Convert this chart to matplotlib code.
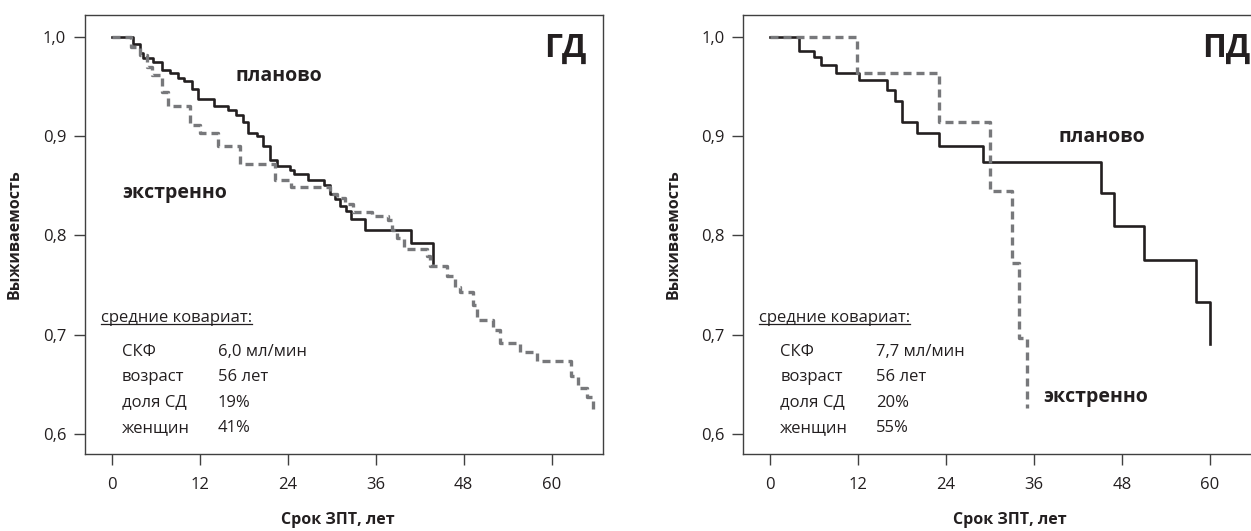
import matplotlib
matplotlib.use("Agg")
import matplotlib.pyplot as plt

plt.rcParams['font.family'] = ['Open Sans', 'DejaVu Sans']

# ГД: planned (solid) and urgent (dashed) survival, months
gd_plan_t = [0, 2.9, 3.9, 4.3, 5.7, 6.8, 8.0, 9.0, 9.8, 10.9, 11.8, 13.9, 15.9, 17.0, 17.9,
             18.6, 19.8, 20.7, 21.6, 22.5, 24.3, 24.8, 26.8, 28.9, 29.8, 30.5, 31.1, 32.0,
             32.7, 34.6, 40.8, 43.8]
gd_plan_s = [1.0, 0.993, 0.984, 0.979, 0.975, 0.967, 0.964, 0.959, 0.956, 0.948, 0.937, 0.930,
             0.926, 0.921, 0.914, 0.903, 0.900, 0.890, 0.876, 0.870, 0.866, 0.862, 0.856, 0.851,
             0.842, 0.837, 0.830, 0.825, 0.816, 0.805, 0.792, 0.772]
gd_urg_t = [0, 2.7, 3.9, 4.8, 5.5, 6.8, 7.7, 10.7, 12.0, 14.5, 17.5, 22.3, 24.5, 29.8, 30.7,
            31.8, 32.9, 35.5, 37.7, 38.2, 38.9, 39.9, 43.0, 43.4, 45.7, 46.8, 47.5, 49.3, 49.8,
            52.0, 53.0, 55.7, 58.0, 62.6, 63.6, 64.8, 65.7]
gd_urg_s = [1.0, 0.990, 0.982, 0.970, 0.962, 0.945, 0.930, 0.911, 0.903, 0.890, 0.872, 0.856,
            0.849, 0.842, 0.838, 0.832, 0.824, 0.820, 0.815, 0.805, 0.797, 0.786, 0.779, 0.769,
            0.759, 0.748, 0.743, 0.730, 0.715, 0.705, 0.691, 0.682, 0.673, 0.658, 0.646, 0.637,
            0.625]

# ПД
pd_plan_t = [0, 4.0, 6.0, 6.9, 9.0, 12.2, 16.0, 17.0, 18.0, 20.0, 23.1, 29.0, 45.2, 46.9,
             51.0, 58.1, 60.0]
pd_plan_s = [1.0, 0.986, 0.980, 0.972, 0.964, 0.957, 0.947, 0.935, 0.914, 0.903, 0.890, 0.874,
             0.843, 0.809, 0.775, 0.733, 0.690]
pd_urg_t = [0, 11.9, 23.1, 30.0, 33.0, 34.0, 35.0]
pd_urg_s = [1.0, 0.964, 0.914, 0.845, 0.772, 0.696, 0.626]

cov_names = ["СКФ", "возраст", "доля СД", "женщин"]
gd_cov = ["6,0 мл/мин", "56 лет", "19%", "41%"]
pd_cov = ["7,7 мл/мин", "56 лет", "20%", "55%"]

xticks = [0, 12, 24, 36, 48, 60]
yticks = [0.6, 0.7, 0.8, 0.9, 1.0]

panels = [
    dict(title="ГД", plan=(gd_plan_t, gd_plan_s), urg=(gd_urg_t, gd_urg_s), cov=gd_cov,
         plan_lbl=(16.95, 0.956), urg_lbl=(1.5, 0.838), xlab=0.488),
    dict(title="ПД", plan=(pd_plan_t, pd_plan_s), urg=(pd_urg_t, pd_urg_s), cov=pd_cov,
         plan_lbl=(39.4, 0.894), urg_lbl=(37.2, 0.632), xlab=0.515),
]

black = "#231f20"
grey = "#77787b"

fig = plt.figure(figsize=(12.51, 5.31), dpi=100)
axes = [fig.add_axes([0.06795, 0.145, 0.4143, 0.8273]),
        fig.add_axes([0.59416, 0.145, 0.4143, 0.8273])]

underlined = []
for ax, p in zip(axes, panels):
    ax.step(*p["plan"], where="post", color=black, lw=1.9)
    ax.step(*p["urg"], where="post", color=grey, lw=2.4, dashes=(2.4, 1.5),
            dash_capstyle="butt")

    ax.set_xlim(-3.64, 67.04)
    ax.set_ylim(0.5795, 1.0225)
    ax.set_xticks(xticks)
    ax.set_xticklabels([str(v) for v in xticks])
    ax.set_yticks(yticks)
    ax.set_yticklabels([f"{v:.1f}".replace(".", ",") for v in yticks])
    ax.tick_params(axis="y", direction="out", length=8, width=1, labelsize=12, pad=5.5,
                   color="#404040", labelcolor=black)
    ax.tick_params(axis="x", direction="out", length=8, width=1, labelsize=12, pad=8.5,
                   color="#404040", labelcolor=black)
    for s in ax.spines.values():
        s.set_color("#404040")
        s.set_linewidth(1.0)

    ax.set_ylabel("Выживаемость", fontsize=11.5, fontweight="bold", color=black,
                  va="center")
    ax.yaxis.set_label_coords(-0.135, 0.5)
    ax.set_xlabel("Срок ЗПТ, лет", fontsize=11.5, fontweight="bold", color=black,
                  va="center")
    ax.xaxis.set_label_coords(p["xlab"], -0.150)

    ax.text(58.95, 0.980, p["title"], fontsize=23, fontweight="bold", color=black,
            ha="left", va="baseline")
    ax.text(*p["plan_lbl"], "планово", fontsize=14, fontweight="bold", color=black,
            ha="left", va="baseline")
    ax.text(*p["urg_lbl"], "экстренно", fontsize=14, fontweight="bold", color=black,
            ha="left", va="baseline")

    t = ax.text(-1.5, 0.7127, "средние ковариат:", fontsize=12, color=black,
                ha="left", va="baseline")
    underlined.append((ax, t))
    for i, (name, val) in enumerate(zip(cov_names, p["cov"])):
        yb = 0.6784 - 0.0255 * i
        ax.text(1.4, yb, name, fontsize=12, color=black, ha="left", va="baseline")
        ax.text(14.5, yb, val, fontsize=12, color=black, ha="left", va="baseline")

# underline the covariate heading
fig.canvas.draw()
renderer = fig.canvas.get_renderer()
for ax, t in underlined:
    bb = t.get_window_extent(renderer).transformed(ax.transAxes.inverted())
    ax.plot([bb.x0, bb.x1], [bb.y0 + 0.004, bb.y0 + 0.004], transform=ax.transAxes,
            color=black, lw=0.9, clip_on=False)

fig.savefig("out.png", dpi=100)
